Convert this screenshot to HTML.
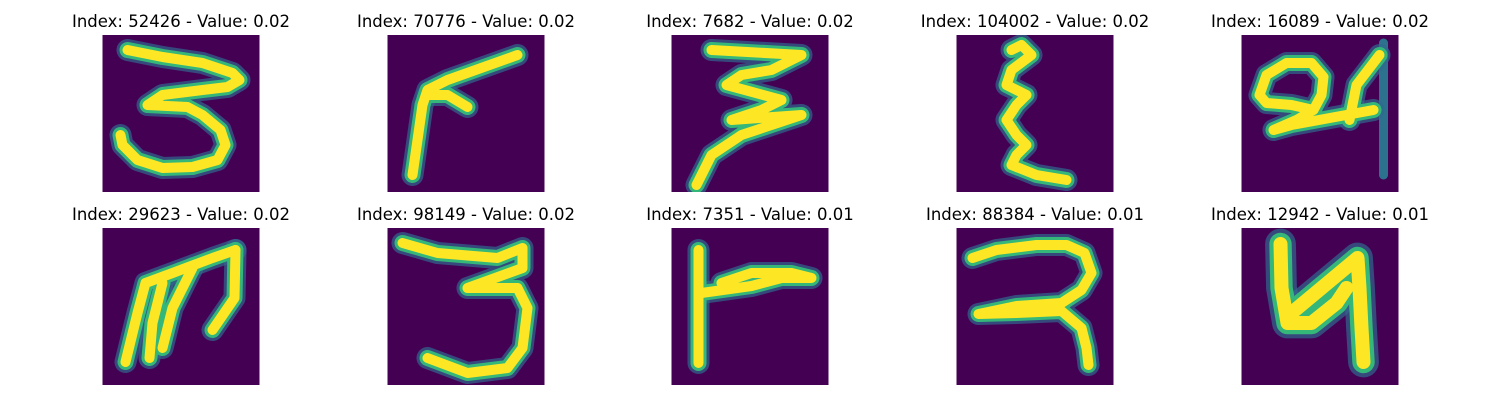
<!DOCTYPE html>
<html><head><meta charset="utf-8"><style>
body{margin:0;background:#fff;width:1500px;height:400px;overflow:hidden;font-family:"DejaVu Sans","Liberation Sans",sans-serif}
.t{position:absolute;font-size:16.5px;color:#000;text-align:center;width:300px;white-space:nowrap}
svg.img{position:absolute}
</style></head><body>
<div id="root"></div>
<script>
const indices=[52426,70776,7682,104002,16089,29623,98149,7351,88384,12942];
const values=["0.02","0.02","0.02","0.02","0.02","0.02","0.02","0.01","0.01","0.01"];
const strokes=[
["M25,15 L60,22 L100,28 L130,38 L137,45 L125,52 L100,55 L60,60 L45,70 L85,72 L100,80 L118,95 L123,110 L115,125 L90,132 L60,133 L35,125 L20,110 L18,100"],
["M130,20 L60,45 L40,55 L35,70 L25,140","M40,60 L60,60 L80,72"],
["M40,15 L130,20 L100,35 L70,40 L55,50 L110,65 L90,75 L60,85 L130,80 L70,100 L40,120 L25,150"],
["M55,15 L65,10 L75,20 L55,35 L50,50 L70,60 L60,70 L50,85 L60,100 L70,110 L60,120 L55,130 L80,140 L110,145"],
["M72,75 L50,70 L25,68 L18,60 L25,40 L45,28 L70,28 L82,42 L80,60 L72,75 L55,85 L32,95 L50,90 L132,75","M138,20 L115,50 L108,85"],
["M23,134 L35,85 L43,55 L70,45 L110,30 L133,22","M60,55 L50,95 L47,130","M90,40 L70,80 L60,120","M133,22 L132,70 L110,102"],
["M15,15 L50,25 L110,30 L135,20 L135,40 L80,60 L130,60 L140,80 L135,120 L120,140 L80,145 L40,130"],
["M27,22 L27,135","M30,65 L80,58 L110,50 L140,50 L120,45 L80,45 L50,55"],
["M16,30 L40,22 L80,17 L110,17 L128,25 L135,45 L125,62 L105,75 L60,78 L22,86 L60,85 L105,83 L125,100 L130,120 L132,137"],
["M39,16 L40,60 L46,95 L70,95 L95,75 L105,60","M50,85 L80,60 L116,30 L118,60 L120,100 L122,134"]
];
const widths=[1,1,1,1,1,1,1,1,1,1.4];
const faint=[[],[],[],[],["M142,8 L142,140"],[],[],[],[],[]];
const root=document.getElementById('root');
const xs=[102,387,671,956,1241], ys=[35,228];
for(let i=0;i<10;i++){
  const c=i%5,r=Math.floor(i/5);
  const t=document.createElement('div');
  t.className='t';
  
  
  t.style.left=(xs[c]+79-150)+'px';t.style.top=(ys[r]-23)+'px';
  t.textContent='Index: '+indices[i]+' - Value: '+values[i];
  root.appendChild(t);
  const k=widths[i];
  let s='<svg class="img" width="158" height="157" viewBox="0 0 157 157" style="left:'+xs[c]+'px;top:'+ys[r]+'px"><rect width="157" height="157" fill="#440154"/>';
  faint[i].forEach(d=>{s+='<path d="'+d+'" fill="none" stroke="#2c728e" stroke-width="9" stroke-linecap="round"/>';});
  strokes[i].forEach(d=>{s+='<path d="'+d+'" fill="none" stroke="#31688e" stroke-width="'+(22*k)+'" stroke-linecap="round" stroke-linejoin="round" opacity="0.7"/>';});
  strokes[i].forEach(d=>{s+='<path d="'+d+'" fill="none" stroke="#35b779" stroke-width="'+(16*k)+'" stroke-linecap="round" stroke-linejoin="round"/>';});
  strokes[i].forEach(d=>{s+='<path d="'+d+'" fill="none" stroke="#fde725" stroke-width="'+(10*k)+'" stroke-linecap="round" stroke-linejoin="round"/>';});
  s+='</svg>';
  const w=document.createElement('div');
  w.innerHTML=s;
  const el=w.firstChild;
  
  
  root.appendChild(el);
}
</script>
</body></html>
